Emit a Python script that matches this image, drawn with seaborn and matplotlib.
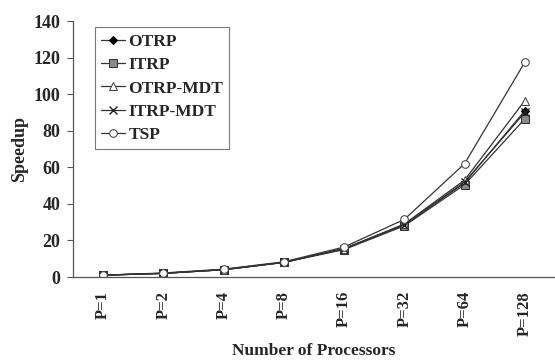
import matplotlib
matplotlib.use('Agg')
import matplotlib.pyplot as plt
import numpy as np
import pandas as pd
import seaborn as sns

procs = ['P=1', 'P=2', 'P=4', 'P=8', 'P=16', 'P=32', 'P=64', 'P=128']
otrp = [1, 2, 4, 8, 15.5, 28.5, 51.5, 91]
itrp = [1, 2, 4, 8, 15, 28, 50.5, 86.5]
otrp_mdt = [1, 2, 4, 8, 15.5, 29, 53, 96.5]
itrp_mdt = [1, 2, 4, 8, 15.5, 28.5, 52, 90]
tsp = [1, 2.2, 4.3, 8.3, 16.4, 31.5, 62, 117.5]

series = {
    'OTRP': otrp,
    'ITRP': itrp,
    'OTRP-MDT': otrp_mdt,
    'ITRP-MDT': itrp_mdt,
    'TSP': tsp,
}
styles = {
    'OTRP': dict(marker='D', markersize=4.5, markerfacecolor='black', markeredgecolor='black'),
    'ITRP': dict(marker='s', markersize=5.5, markerfacecolor='#8a8a8a', markeredgecolor='#333333'),
    'OTRP-MDT': dict(marker='^', markersize=6, markerfacecolor='white', markeredgecolor='#444444'),
    'ITRP-MDT': dict(marker='x', markersize=6, markeredgecolor='#222222', markeredgewidth=1.0),
    'TSP': dict(marker='o', markersize=5.5, markerfacecolor='white', markeredgecolor='#444444'),
}

rows = []
for name, vals in series.items():
    for i, v in enumerate(vals):
        rows.append({'pos': i, 'speedup': v, 'series': name})
df = pd.DataFrame(rows)

sns.set_style('white')
plt.rcParams['font.family'] = ['Liberation Serif', 'DejaVu Serif']
plt.rcParams['font.weight'] = 'bold'

fig = plt.figure(figsize=(5.55, 3.62), dpi=100)
ax = fig.add_axes([73 / 555, 1 - 277 / 362, 1 - 73 / 555, (277 - 21) / 362])

for name in series:
    sub = df[df['series'] == name]
    sns.lineplot(data=sub, x='pos', y='speedup', ax=ax, color='#333333',
                 linewidth=0.9, label=name, **styles[name])

ax.set_xlim(-0.5, 7.5)
ax.set_ylim(0, 140)
ax.set_yticks(np.arange(0, 141, 20))
ax.set_xticks(range(len(procs)))
ax.set_xticklabels(procs, rotation=90, fontsize=12, fontweight='bold')
ax.set_xticks(np.arange(-0.5, 7.6, 1), minor=True)
ax.tick_params(axis='x', which='major', length=0, pad=10)
ax.tick_params(axis='x', which='minor', direction='in', length=4, width=0.8, color='#555555')
ax.tick_params(axis='y', direction='out', length=4, width=0.8, color='#555555',
               labelsize=13, pad=5, left=True)
for lab in ax.get_yticklabels():
    lab.set_fontweight('bold')

for s in ['top', 'right']:
    ax.spines[s].set_visible(False)
for s in ['left', 'bottom']:
    ax.spines[s].set_color('#555555')
    ax.spines[s].set_linewidth(0.9)

ax.set_xlabel('Number of Processors', fontsize=12.5, fontweight='bold')
ax.xaxis.set_label_coords(0.5, -(343 - 277) / 256)
ax.set_ylabel('Speedup', fontsize=13, fontweight='bold', labelpad=4)

leg = ax.legend(loc='upper left', bbox_to_anchor=(0.045, 0.975), frameon=True,
                fancybox=False, edgecolor='#555555', fontsize=12.5,
                handlelength=1.4, handletextpad=0.2, labelspacing=0.42,
                borderpad=0.35, borderaxespad=0)
leg.get_frame().set_linewidth(0.8)
for t in leg.get_texts():
    t.set_fontweight('bold')

fig.savefig('out.png', dpi=100)
